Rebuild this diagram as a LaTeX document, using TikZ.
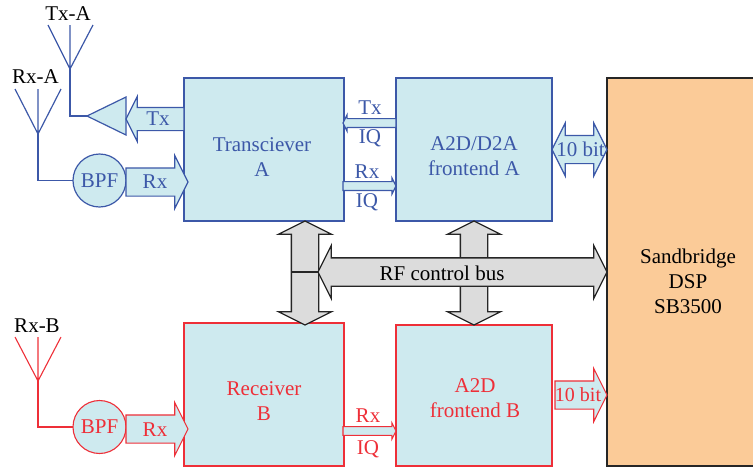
\documentclass[tikz,border=0pt]{standalone}
\usepackage{fontspec}
\setmainfont{Liberation Serif}
\usetikzlibrary{arrows, positioning, shapes.arrows, shapes.geometric}
\definecolor{bluecol}{HTML}{3C58A8}
\definecolor{redcol}{HTML}{EE2F38}
\definecolor{cyanfill}{HTML}{CEEAEF}
\definecolor{grayfill}{HTML}{DCDCDC}
\definecolor{dspfill}{HTML}{FBCB98}
\tikzstyle{every node}=[font=\fontsize{21}{25}\selectfont, inner sep=0pt, outer sep=0pt]
\tikzstyle{blueline}=[draw=bluecol, text=bluecol, line width=1.2pt]
\tikzstyle{redline}=[draw=redcol, text=redcol, line width=1.1pt]
\tikzstyle{blackline}=[draw=black!85, text=black, line width=1.3pt]
\tikzstyle{box}=[rectangle, fill=cyanfill, minimum height=143pt]
\tikzstyle{bpf}=[circle, fill=cyanfill, minimum size=53pt]
\tikzstyle{fatarr}=[single arrow, fill=cyanfill, inner sep=13.5pt, single arrow head extend=12.5pt, single arrow tip angle=126.87, anchor=tail]
\tikzstyle{thinarr}=[single arrow, fill=cyanfill, inner sep=3.8pt, single arrow head extend=3.8pt, single arrow tip angle=126.87, minimum height=53pt, anchor=tail]
\tikzstyle{fatdouble}=[double arrow, inner sep=13.5pt, double arrow head extend=12.5pt, double arrow tip angle=126.87]

\begin{document}
\begin{tikzpicture}[x=1pt, y=-1pt]
    \useasboundingbox (0,0) rectangle (753,467);

    % blocks
    \node [box, blueline, minimum width=160pt, label={[text=bluecol, align=center, xshift=-2pt, yshift=-8pt]center:{Transciever\\A}}](transA) at (264,149.5) {};
    \node [box, blueline, minimum width=156pt, right=52pt of transA, label={[text=bluecol, align=center, yshift=-6.5pt]center:{A2D/D2A\\frontend A}}](frontA) {};
    \node [box, redline, minimum width=160pt, label={[text=redcol, align=center, yshift=-6.5pt]center:{Receiver\\B}}](recvB) at (264,394.5) {};
    \node [box, redline, minimum width=156pt, minimum height=141pt, label={[text=redcol, align=center, xshift=1pt, yshift=-3pt]center:{A2D\\frontend B}}](frontB) at (474,395.5) {};
    \node [blackline, rectangle, fill=dspfill, minimum width=153pt, minimum height=388pt, align=center, label={[align=center, xshift=4.5pt, yshift=-9pt]center:{Sandbridge\\DSP\\SB3500}}](dsp) at (683.5,272) {};

    % control bus
    \node [fatdouble, blackline, fill=grayfill, inner sep=13pt, double arrow head extend=13pt, shape border rotate=90, minimum height=104pt](ctrlA) at (305,273) {};
    \node [fatdouble, blackline, fill=grayfill, inner sep=13pt, double arrow head extend=13pt, shape border rotate=90, minimum height=104pt](ctrlB) at (474,273) {};
    \node [fatdouble, blackline, fill=grayfill, minimum height=289pt](bus) at (462.5,272) {};
    \node (bustext) at (442,273) {RF control bus};
    \coordinate (busjoin) at (292,272);
    \path (busjoin) edge[blackline] (bus.west);

    % side A
    \coordinate (txbase) at (70,69);
    \coordinate (rxbaseA) at (38,134);
    \node [isosceles triangle, isosceles triangle stretches, shape border rotate=180, anchor=apex, blueline, fill=cyanfill, minimum width=38pt, minimum height=39pt](amp) at (87,116) {};
    \node [bpf, blueline](bpfA) at (99.5,180.5) {BPF};
    \node (txantA) at (68,14) {Tx-A};
    \node (rxantA) at (35.5,77) {Rx-A};
    \draw [blueline] (txbase) -- ++(-22,-44) (txbase) -- ++(0,-44) (txbase) -- ++(23,-44);
    \draw [blueline] (rxbaseA) -- ++(-23,-45) (rxbaseA) -- ++(0,-45) (rxbaseA) -- ++(23,-45);
    \draw [blueline] (txbase) |- (amp.apex);
    \draw [blueline] (rxbaseA) |- (bpfA.west);

    \node [fatarr, blueline, inner sep=11pt, single arrow head extend=11pt, shape border rotate=180, minimum height=58pt](txarr) at (184,119) {};
    \node [text=bluecol](txtext) at (158,119) {Tx};
    \node [fatarr, blueline, minimum height=62pt](rxarrA) at (126,182) {};
    \node [text=bluecol](rxtextA) at (155,181.5) {Rx};

    \node [thinarr, blueline, shape border rotate=180](txiq) at (396,123) {};
    \node [text=bluecol](txiqtop) at (370,108) {Tx};
    \node [text=bluecol](txiqbot) at (370,138) {IQ};
    \node [thinarr, blueline](rxiqA) at (343,186) {};
    \node [text=bluecol](rxiqtopA) at (367,172) {Rx};
    \node [text=bluecol](rxiqbotA) at (367,202) {IQ};

    \node [fatdouble, blueline, fill=cyanfill, minimum height=55pt, label={[text=bluecol, xshift=1pt]center:{10 bit}}](bitsA) at (579.5,149.5) {};

    % side B
    \coordinate (rxbaseB) at (38,381);
    \node [bpf, redline](bpfB) at (99.5,427) {BPF};
    \node (rxantB) at (37,326) {Rx-B};
    \draw [redline] (rxbaseB) -- ++(-23,-44) (rxbaseB) -- ++(0,-44) (rxbaseB) -- ++(23,-44);
    \draw [redline] (rxbaseB) |- (bpfB.west);

    \node [fatarr, redline, minimum height=62pt](rxarrB) at (126,429) {};
    \node [text=redcol](rxtextB) at (155,430) {Rx};

    \node [thinarr, redline](rxiqB) at (343,431) {};
    \node [text=redcol](rxiqtopB) at (368,416) {Rx};
    \node [text=redcol](rxiqbotB) at (368,449) {IQ};

    \node [fatarr, redline, minimum height=52pt](bitsB) at (555,395) {};
    \node [text=redcol, font=\fontsize{20}{25}\selectfont](bitstextB) at (578,395) {10 bit};
\end{tikzpicture}
\end{document}
